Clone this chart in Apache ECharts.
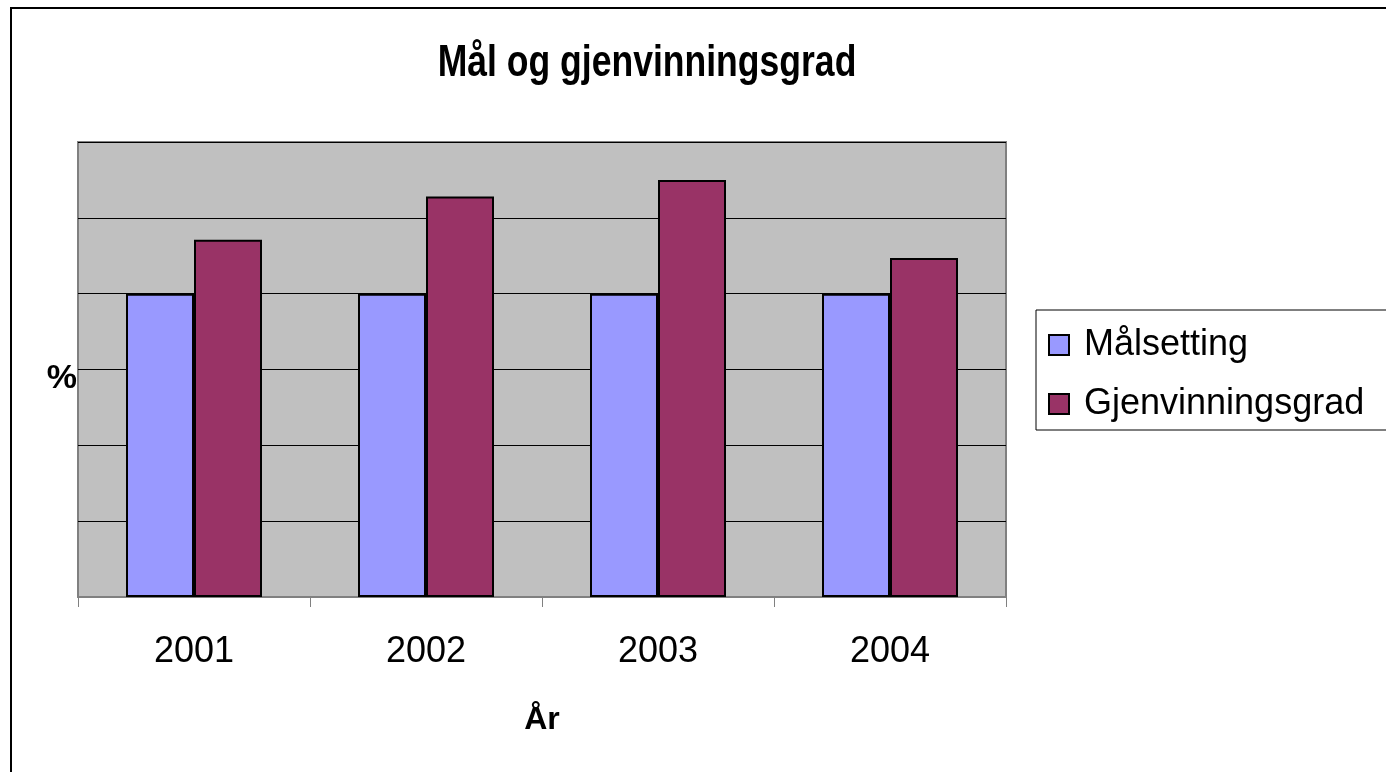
<!DOCTYPE html>
<html>
<head>
<meta charset="utf-8">
<script src="https://cdn.jsdelivr.net/npm/echarts@6/dist/echarts.min.js"></script>
<style>
  html, body { margin: 0; padding: 0; background: #fff; }
  #chart { width: 1386px; height: 772px; }
</style>
</head>
<body>
<div id="chart"></div>
<script>
const years = ['2001', '2002', '2003', '2004'];
const malsetting = [4, 4, 4, 4];
const gjenvinningsgrad = [4.71, 5.28, 5.5, 4.47];

let myChart = echarts.init(document.getElementById('chart'));
let option = {
  backgroundColor: '#fff',
  animation: false,
  graphic: [
    {
      type: 'rect',
      shape: { x: 11, y: 8, width: 1500, height: 900 },
      style: { fill: 'none', stroke: '#000', lineWidth: 2 },
      silent: true
    },
    {
      // title is drawn narrow and tall like the original
      type: 'text',
      x: 647,
      y: 64,
      scaleX: 0.79,
      style: {
        text: 'Mål og gjenvinningsgrad',
        fill: '#000',
        font: 'bold 45px "Liberation Sans", Arial, sans-serif',
        textAlign: 'center',
        textVerticalAlign: 'middle'
      },
      silent: true
    },
    {
      // y axis name
      type: 'text',
      x: 77,
      y: 379,
      style: {
        text: '%',
        fill: '#000',
        font: 'bold 34px "Liberation Sans", Arial, sans-serif',
        textAlign: 'right',
        textVerticalAlign: 'middle'
      },
      silent: true
    }
  ],
  legend: {
    orient: 'vertical',
    left: 1036,
    top: 310,
    padding: [17, 40, 8, 12],
    itemGap: 23,
    itemWidth: 20,
    itemHeight: 20,
    icon: 'rect',
    borderColor: '#000',
    borderWidth: 1,
    textStyle: {
      fontFamily: '"Liberation Sans", Arial, sans-serif',
      fontSize: 36,
      color: '#000',
      padding: [0, 0, 0, 10]
    },
    data: ['Målsetting', 'Gjenvinningsgrad']
  },
  grid: {
    left: 78,
    top: 142,
    width: 928,
    height: 455,
    show: true,
    backgroundColor: '#c0c0c0',
    borderColor: '#808080',
    borderWidth: 2
  },
  xAxis: {
    type: 'category',
    data: years,
    name: 'År',
    nameLocation: 'middle',
    nameGap: 107,
    nameTextStyle: {
      fontFamily: '"Liberation Sans", Arial, sans-serif',
      fontWeight: 'bold',
      fontSize: 32,
      color: '#000'
    },
    axisLine: { lineStyle: { color: '#808080', width: 1 } },
    axisTick: { show: true, length: 10, lineStyle: { color: '#808080' } },
    axisLabel: {
      margin: 37,
      fontFamily: '"Liberation Sans", Arial, sans-serif',
      fontSize: 36,
      color: '#000'
    }
  },
  yAxis: {
    type: 'value',
    min: 0,
    max: 6,
    interval: 1,
    axisLine: { show: false },
    axisTick: { show: false },
    axisLabel: { show: false },
    splitLine: { lineStyle: { color: '#000', width: 1 } }
  },
  series: [
    {
      name: 'Målsetting',
      type: 'bar',
      data: malsetting,
      barWidth: 68,
      barGap: '0%',
      itemStyle: { color: '#9999ff', borderColor: '#000', borderWidth: 2 }
    },
    {
      name: 'Gjenvinningsgrad',
      type: 'bar',
      data: gjenvinningsgrad,
      barWidth: 68,
      barGap: '0%',
      itemStyle: { color: '#993366', borderColor: '#000', borderWidth: 2 }
    }
  ]
};
myChart.setOption(option);
</script>
</body>
</html>
